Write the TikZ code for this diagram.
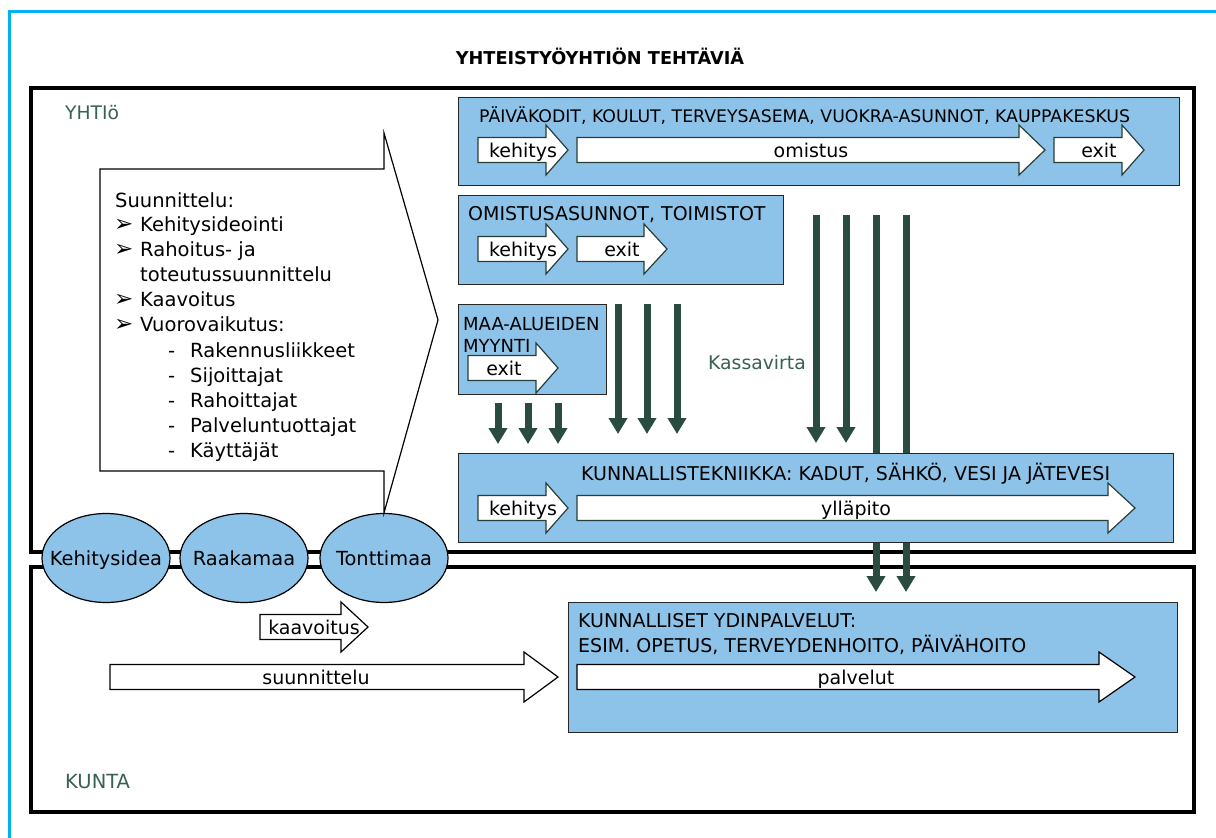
\documentclass[tikz,border=0pt]{standalone}
\usepackage{fontspec}
\setmainfont{DejaVu Sans}
\usetikzlibrary{arrows.meta,shapes.geometric}

\definecolor{boxblue}{RGB}{142,195,233}
\definecolor{cashgreen}{RGB}{42,76,64}
\definecolor{framecyan}{RGB}{0,176,240}
\definecolor{labelteal}{RGB}{58,96,86}
\definecolor{arrline}{RGB}{38,62,54}

\tikzset{
 bluebox/.style={draw=black!85, line width=1.4pt, fill=boxblue, inner sep=0pt, anchor=north west},
 frame/.style={draw=black, line width=4pt},
 txt/.style={inner sep=0pt, anchor=west, text height=14pt, text depth=0pt, font=\fontsize{19}{23}\selectfont},
 ctxt/.style={txt, font=\fontsize{19.5}{25}\selectfont},
 barr/.style={draw=arrline, fill=white, line width=1.2pt, line join=miter},
 cash/.style={draw=cashgreen, line width=7pt, -{Triangle[length=16pt,width=18pt]}},
 stage/.style={ellipse, draw=black, fill=boxblue, line width=1.2pt, minimum width=128pt, minimum height=89pt,
   inner sep=0pt, label={[txt, anchor=center, font=\fontsize{19.4}{23}\selectfont]center:#1}},
}

% block arrow: [label pos]{name}{x1}{x2}{y}{head length}{label}
\newcommand{\barrow}[7][0.5]{%
 \draw[barr] (#3,#5-12.5) -- (#4-#6,#5-12.5) -- (#4-#6,#5-25) -- (#4,#5)
   -- (#4-#6,#5+25) -- (#4-#6,#5+12.5) -- (#3,#5+12.5) -- cycle;
 \node[txt, anchor=center] (#2) at ({#3+(#4-#3)*#1},#5) {#7};}

\begin{document}
\begin{tikzpicture}[x=1pt, y=-1pt]
 \useasboundingbox (0,0) rectangle (1216,838);
 \draw[framecyan, line width=3pt] (9,838) -- (9,11) -- (1216,11);
 \node[txt, anchor=center, font=\fontsize{17.7}{21}\selectfont\bfseries] (title) at (600,57) {YHTEISTYÖYHTIÖN TEHTÄVIÄ};

 % yhtio and kunta
 \draw[frame] (31,88) rectangle (1194,552);
 \draw[frame] (31,567) rectangle (1194,812);
 \node[txt, text=labelteal, font=\fontsize{18.7}{22}\selectfont] (yhtio) at (65,112) {YHTIö};
 \node[txt, text=labelteal, font=\fontsize{19.5}{23}\selectfont] (kunta) at (65,781) {KUNTA};

 % stages
 \node[stage=Kehitysidea] (idea) at (106,558) {};
 \node[stage=Raakamaa] (raw) at (244,558) {};
 \node[stage=Tonttimaa] (plot) at (384,558) {};

 % callout
 \draw[line width=1.2pt, fill=white, line join=miter] (100,169) -- (384,169) -- (384,133) -- (438,320)
   -- (plot.north) -- (384,471) -- (100,471) -- cycle;
 \node[ctxt] (plan) at (115,200) {Suunnittelu:};
 \foreach \y/\t [count=\i] in {224/Kehitysideointi, 249/Rahoitus- ja, 299/Kaavoitus, 324/Vuorovaikutus:} {
   \node[ctxt, font=\fontsize{23}{25}\selectfont] (m\i) at (114,\y) {➢};
   \node[ctxt] (p\i) at (140,\y) {\t};
 }
 \node[ctxt] (p5) at (140,274) {toteutussuunnittelu};
 \foreach \y/\t [count=\i] in {350/Rakennusliikkeet, 375/Sijoittajat, 400/Rahoittajat, 425/Palveluntuottajat, 450/Käyttäjät} {
   \node[ctxt] (d\i) at (168,\y) {-};
   \node[ctxt] (r\i) at (190,\y) {\t};
 }

 % blue boxes
 \node[bluebox, minimum width=721pt, minimum height=88pt] (own) at (458,97) {};
 \node[txt, font=\fontsize{17.3}{21}\selectfont] (ownt) at (479,115) {PÄIVÄKODIT, KOULUT, TERVEYSASEMA, VUOKRA-ASUNNOT, KAUPPAKESKUS};
 \barrow{o1}{478}{568}{150}{22}{kehitys}
 \barrow{o2}{577}{1045}{150}{26}{omistus}
 \barrow{o3}{1054}{1144}{150}{22}{exit}

 \node[bluebox, minimum width=325pt, minimum height=89pt] (sale) at (458,195) {};
 \node[txt] (salet) at (468,213) {OMISTUSASUNNOT, TOIMISTOT};
 \barrow{s1}{478}{568}{249}{22}{kehitys}
 \barrow{s2}{577}{667}{249}{23}{exit}

 \node[bluebox, minimum width=148pt, minimum height=90pt] (land) at (458,304) {};
 \node[txt, font=\fontsize{18}{22}\selectfont] (landt) at (463,323) {MAA-ALUEIDEN};
 \node[txt, font=\fontsize{18}{22}\selectfont] (landu) at (463,345) {MYYNTI};
 \barrow[0.4]{l1}{468}{558}{368}{22}{exit}

 % kassavirta
 \foreach \x [count=\i] in {498,528,558} {
   \coordinate (a\i) at (\x,403); \coordinate (b\i) at (\x,444);
   \draw[cash] (a\i) -- (b\i);
 }
 \foreach \x [count=\i] in {618,647,677} {
   \coordinate (c\i) at (\x,304); \coordinate (e\i) at (\x,434);
   \draw[cash] (c\i) -- (e\i);
 }
 \foreach \x/\z [count=\i] in {816/443,846/443,876/592,906/592} {
   \coordinate (f\i) at (\x,215); \coordinate (g\i) at (\x,\z);
   \draw[cash] (f\i) -- (g\i);
 }
 \node[txt, text=labelteal, font=\fontsize{18.8}{22}\selectfont] (flow) at (708,362) {Kassavirta};

 \node[bluebox, minimum width=715pt, minimum height=89pt] (infra) at (458,453) {};
 \node[txt] (infrat) at (581,473) {KUNNALLISTEKNIIKKA: KADUT, SÄHKÖ, VESI JA JÄTEVESI};
 \barrow{i1}{478}{568}{508}{22}{kehitys}
 \barrow{i2}{577}{1135}{508}{27}{ylläpito}

 \node[bluebox, minimum width=609pt, minimum height=130pt] (core) at (568,602) {};
 \node[txt] (coret) at (578,620) {KUNNALLISET YDINPALVELUT:};
 \node[txt] (coreu) at (578,645) {ESIM. OPETUS, TERVEYDENHOITO, PÄIVÄHOITO};

 \begin{scope}[barr/.append style={draw=black}]
 \barrow{k1}{260}{368}{627}{27}{kaavoitus}
 \barrow[0.46]{k2}{110}{558}{677}{34}{suunnittelu}
 \barrow{k3}{577}{1135}{677}{36}{palvelut}
 \end{scope}
\end{tikzpicture}
\end{document}
